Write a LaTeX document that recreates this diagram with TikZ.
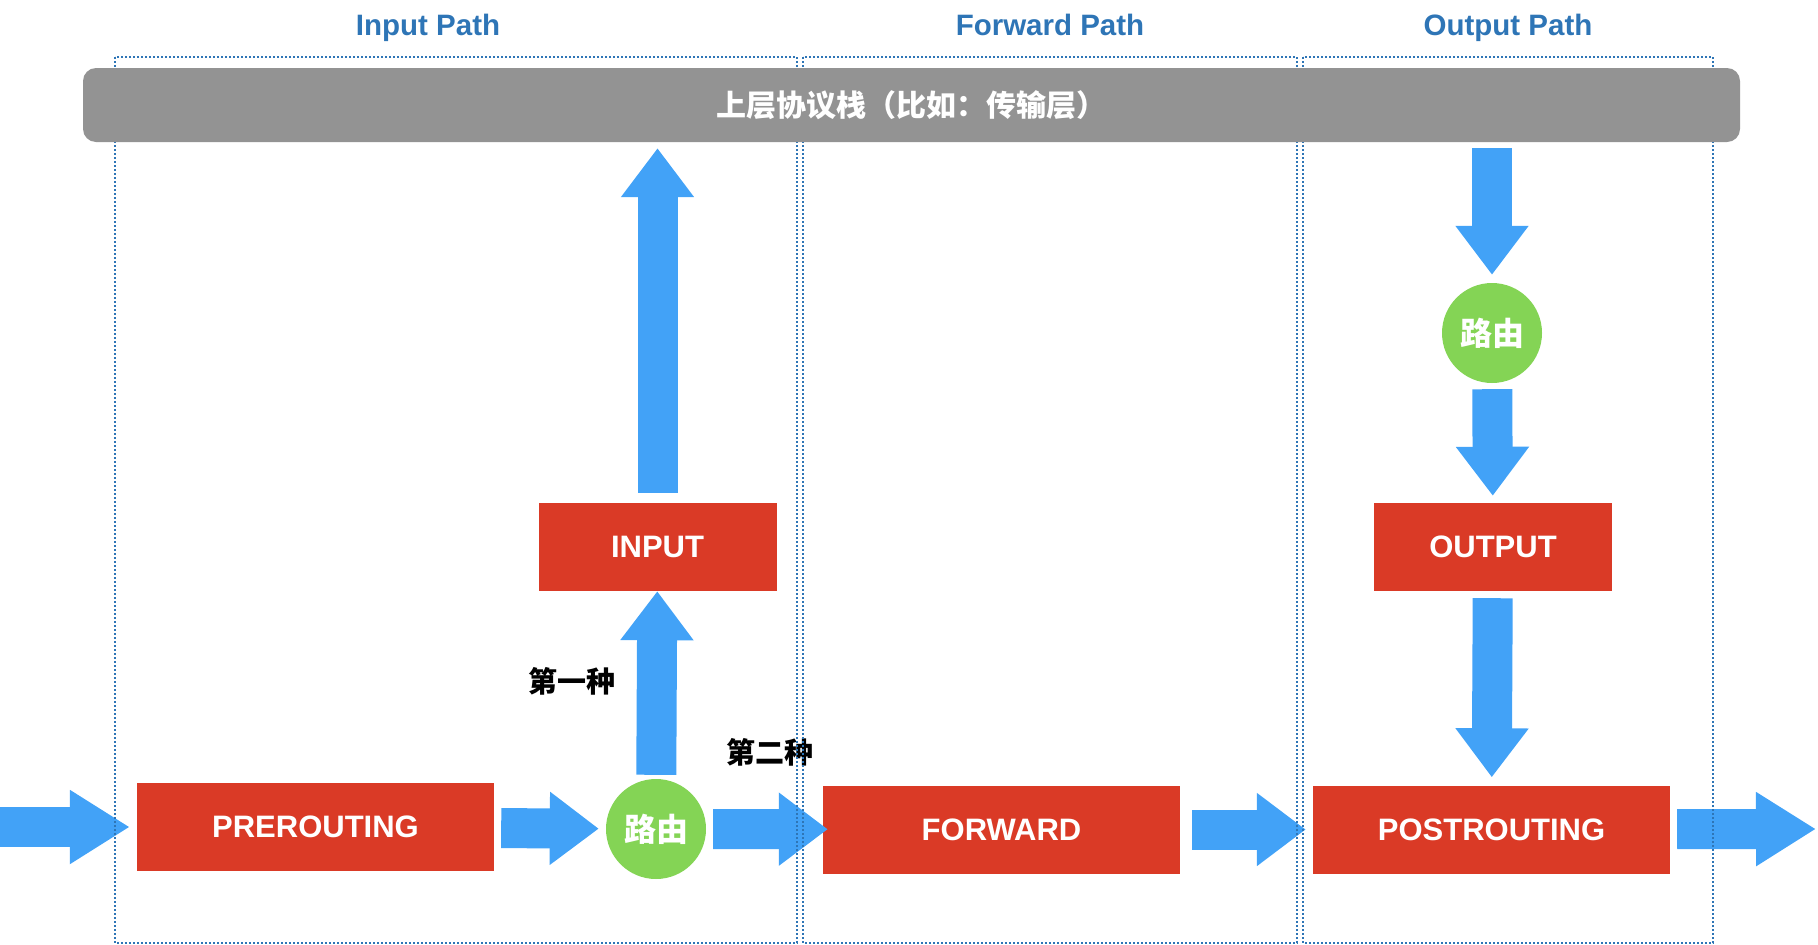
\documentclass[tikz,border=0pt]{standalone}
\usepackage{fontspec}
\setmainfont{Liberation Sans}
\newfontfamily\cjk{Noto Sans CJK SC}
\usetikzlibrary{arrows.meta, positioning}
\definecolor{chainred}{HTML}{DA3A26}
\definecolor{pipeblue}{HTML}{42A2F7}
\definecolor{routegreen}{HTML}{84D455}
\definecolor{stackgray}{HTML}{939393}
\definecolor{pathblue}{HTML}{2E75B6}
\pgfdeclarelayer{front}
\pgfsetlayers{main,front}

\begin{document}
\begin{tikzpicture}[x=1pt,y=-1pt]
    \tikzstyle{chain}=[fill=chainred, text=white, minimum width=357pt, minimum height=88pt, inner sep=0pt, font=\bfseries\fontsize{31}{31}\selectfont]
    \tikzstyle{small chain}=[chain, minimum width=238pt]
    \tikzstyle{route}=[circle, fill=routegreen, text=white, minimum size=100pt, inner sep=0pt, font=\cjk\bfseries\fontsize{32}{32}\selectfont]
    \tikzstyle{pipe}=[draw=pipeblue, line width=40pt, -{Triangle[length=49pt, width=70pt]}, shorten <=7pt, shorten >=7pt]
    \tikzstyle{pathbox}=[draw=pathblue, dash pattern=on 2pt off 2pt, line width=2pt]
    \tikzstyle{pathtitle}=[text=pathblue, anchor=base, inner sep=0pt, font=\bfseries\fontsize{29.5}{30}\selectfont]
    \tikzstyle{way}=[font=\cjk\bfseries\fontsize{29}{29}\selectfont]

    \useasboundingbox (0,0) rectangle (1818,945);

    \node[pathtitle] (t-in) at (428,35) {Input Path};
    \node[pathtitle] (t-fwd) at (1050,35) {Forward Path};
    \node[pathtitle] (t-out) at (1508,35) {Output Path};

    \begin{pgfonlayer}{front}
    \node[fill=stackgray, rounded corners=13pt, minimum width=1657pt, minimum height=74pt, text=white, font=\cjk\bfseries\fontsize{30}{30}\selectfont] (stack) at (911.5,105) {上层协议栈（比如：传输层）};
    \end{pgfonlayer}

    \node[chain] (pre) at (315.5,827) {PREROUTING};
    \node[route] (r-1) at (656,829) {路由};
    \node[chain] (fwd) at (1001.5,829.5) {FORWARD};
    \node[chain] (post) at (1491.5,829.5) {POSTROUTING};
    \node[small chain] (input) at (657.5,547) {INPUT};
    \node[small chain] (output) at (1493,547) {OUTPUT};
    \node[route] (r-2) at (1492,333) {路由};

    \node[way] (first) at (572,681) {第一种};
    \node[way] (second) at (770,752) {第二种};

    \coordinate (in) at (0,827);
    \coordinate (out) at (1816,829);

    \draw[pipe, shorten <=0pt, -{Triangle[length=60pt, width=70pt]}] (in) -- (pre);
    \draw[pipe] (pre) -- (r-1);
    \draw[pipe, shorten >=-5pt] (r-1) -- (fwd);
    \draw[pipe, shorten <=12pt] (fwd) -- (post);
    \draw[pipe, shorten >=0pt, -{Triangle[length=60pt, width=70pt]}] (post) -- (out);
    \draw[pipe, shorten <=4pt, shorten >=0pt] (r-1) -- (input);
    \draw[pipe, shorten <=10pt, shorten >=6pt] (input) -- (input |- stack.south);
    \draw[pipe, shorten <=6pt, shorten >=8pt] (r-2 |- stack.south) -- (r-2);
    \draw[pipe, shorten <=6pt, shorten >=7pt] (r-2) -- (output);
    \draw[pipe, shorten <=7pt, shorten >=8pt] (output) -- (post);

    \draw[pathbox] (115,57) rectangle (797,943);
    \draw[pathbox] (803,57) rectangle (1297,943);
    \draw[pathbox] (1303,57) rectangle (1713,943);
\end{tikzpicture}
\end{document}
